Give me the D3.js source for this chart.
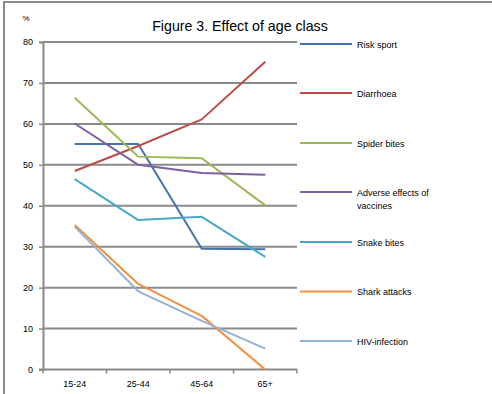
<!DOCTYPE html>
<html>
<head>
<meta charset="utf-8">
<script src="https://cdn.jsdelivr.net/npm/d3@7"></script>
<style>
  html, body { margin: 0; padding: 0; background: #fff; }
  svg { display: block; font-family: "Liberation Sans", Arial, sans-serif; }
</style>
</head>
<body>
<svg id="chart" width="492" height="394"></svg>
<script>
// Age classes along the x axis
const ageClasses = ["15-24", "25-44", "45-64", "65+"];

// Percentage per age class for each risk
const riskSport      = [55.1, 55.1, 29.5, 29.4];
const diarrhoea      = [48.5, 54.6, 61.1, 75.2];
const spiderBites    = [66.4, 52.0, 51.6, 40.1];
const adverseVaccine = [60.1, 50.0, 48.0, 47.6];
const snakeBites     = [46.5, 36.5, 37.3, 27.5];
const sharkAttacks   = [35.3, 20.9, 13.1, 0];
const hivInfection   = [34.9, 19.1, 11.9, 5.1];

const seriesNames  = ["Risk sport", "Diarrhoea", "Spider bites", "Adverse effects of vaccines",
                      "Snake bites", "Shark attacks", "HIV-infection"];
const seriesColors = ["#4672AE", "#BE4B48", "#98B954", "#7D60A0", "#46AAC5", "#F38F3E", "#94B2D8"];
const seriesValues = [riskSport, diarrhoea, spiderBites, adverseVaccine, snakeBites, sharkAttacks, hivInfection];

const yTicks = [0, 10, 20, 30, 40, 50, 60, 70, 80];

const svg = d3.select("#chart");
const plot = { left: 43, right: 297, top: 42, bottom: 369.5 };

const x = d3.scaleBand().domain(ageClasses).range([plot.left, plot.right]);
const y = d3.scaleLinear().domain([0, 80]).range([plot.bottom, plot.top]);

// Frame lines (top and left edges of the chart area)
svg.append("line").attr("x1", 3).attr("x2", 492).attr("y1", 2).attr("y2", 2)
  .attr("stroke", "#8c8c8c").attr("stroke-width", 2);
svg.append("line").attr("x1", 4).attr("x2", 4).attr("y1", 1).attr("y2", 394)
  .attr("stroke", "#8c8c8c").attr("stroke-width", 2);

// Title and unit
svg.append("text").attr("x", 240).attr("y", 31).attr("text-anchor", "middle")
  .attr("font-size", 14.2).attr("fill", "#000").text("Figure 3. Effect of age class");
svg.append("text").attr("x", 26).attr("y", 21).attr("text-anchor", "middle")
  .attr("font-size", 8).attr("fill", "#000").text("%");

// Horizontal gridlines
svg.append("g").selectAll("line").data(yTicks.filter(d => d > 0)).join("line")
  .attr("x1", plot.left).attr("x2", plot.right)
  .attr("y1", d => y(d)).attr("y2", d => y(d))
  .attr("stroke", "#8a8a8a").attr("stroke-width", 2);

// Y axis
const yAxis = svg.append("g").attr("transform", `translate(${plot.left},0)`)
  .call(d3.axisLeft(y).tickValues(yTicks).tickSize(4).tickPadding(6).tickFormat(d3.format("d")));
yAxis.select(".domain").attr("stroke", "#8a8a8a").attr("stroke-width", 2);
yAxis.selectAll(".tick line").attr("stroke", "#8a8a8a").attr("stroke-width", 1.5);
yAxis.selectAll(".tick text").attr("font-size", 9).attr("fill", "#000")
  .attr("font-family", "Liberation Sans, Arial, sans-serif");

// X axis with ticks between categories
const xAxis = svg.append("g").attr("transform", `translate(0,${plot.bottom})`);
xAxis.append("line").attr("x1", plot.left - 4).attr("x2", plot.right)
  .attr("stroke", "#8a8a8a").attr("stroke-width", 2);
const bounds = ageClasses.map(c => x(c)).concat([x(ageClasses[ageClasses.length - 1]) + x.bandwidth()]);
xAxis.selectAll("line.tk").data(bounds).join("line").attr("class", "tk")
  .attr("x1", d => d).attr("x2", d => d).attr("y1", 0).attr("y2", 4)
  .attr("stroke", "#8a8a8a").attr("stroke-width", 1.5);
xAxis.selectAll("text").data(ageClasses).join("text")
  .attr("x", d => x(d) + x.bandwidth() / 2).attr("y", 17)
  .attr("text-anchor", "middle").attr("font-size", 9).attr("fill", "#000").text(d => d);

// Series lines
const line = d3.line()
  .x((d, i) => x(ageClasses[i]) + x.bandwidth() / 2)
  .y(d => y(d));
svg.append("g").selectAll("path").data(seriesValues).join("path")
  .attr("d", d => line(d))
  .attr("fill", "none")
  .attr("stroke", (d, i) => seriesColors[i])
  .attr("stroke-width", 2)
  .attr("stroke-linejoin", "round");

// Legend
const legendY = [44, 93, 143, 192, 242, 291.5, 341];
const legend = svg.append("g").selectAll("g").data(seriesNames).join("g")
  .attr("transform", (d, i) => `translate(300,${legendY[i]})`);
legend.append("line").attr("x1", 0).attr("x2", 52)
  .attr("stroke", (d, i) => seriesColors[i]).attr("stroke-width", 2);
legend.each(function (d) {
  const g = d3.select(this);
  const parts = d === "Adverse effects of vaccines" ? ["Adverse effects of", "vaccines"] : [d];
  parts.forEach((p, j) => {
    g.append("text").attr("x", 57).attr("y", 3.5 + j * 13.5)
      .attr("font-size", 9).attr("fill", "#000").text(p);
  });
});
</script>
</body>
</html>
